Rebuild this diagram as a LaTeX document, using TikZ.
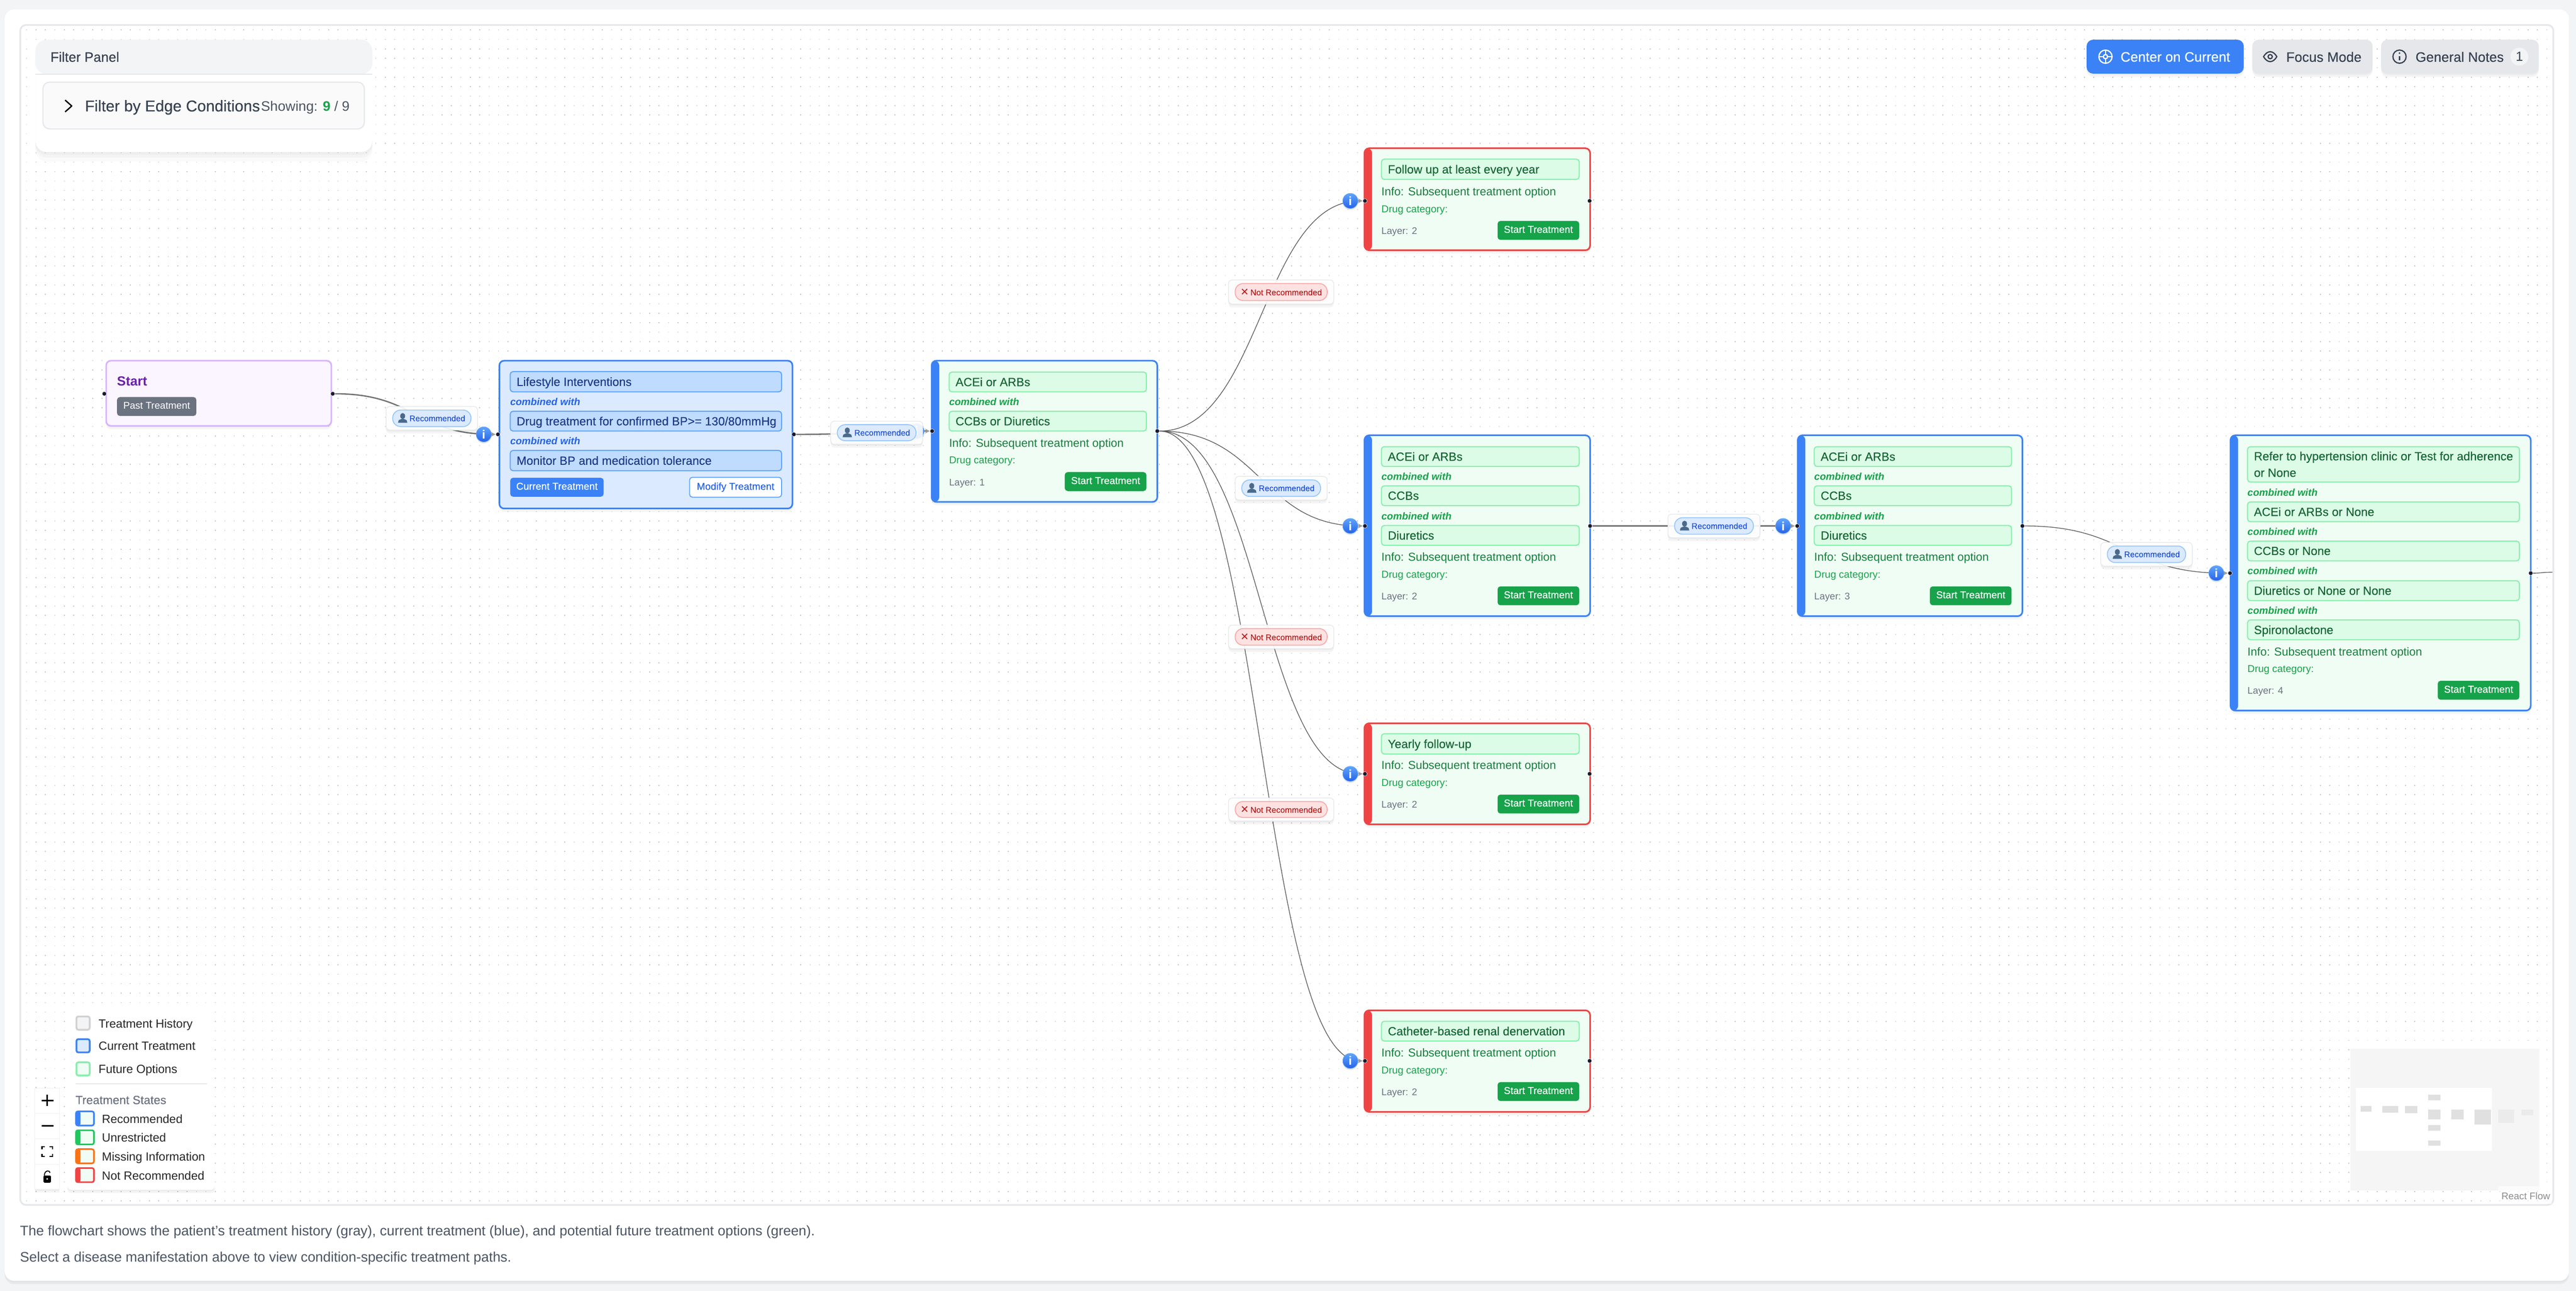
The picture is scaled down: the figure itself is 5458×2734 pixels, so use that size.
\documentclass[tikz,border=0pt]{standalone}
\usepackage{fontspec}
\setmainfont{Liberation Sans}
\newfontfamily\medfont[FakeBold=0.25]{Liberation Sans}
\newfontfamily\dingfont{DejaVu Sans}
\usetikzlibrary{arrows.meta, positioning, calc, shadows}
\definecolor{pagebg}{HTML}{F3F4F6}
\definecolor{lineg}{HTML}{E5E7EB}
\definecolor{blueline}{HTML}{3B82F6}
\definecolor{redline}{HTML}{EF4444}
\definecolor{greenbg}{HTML}{F0FDF4}
\definecolor{chipgreen}{HTML}{DCFCE7}
\definecolor{chipgreenline}{HTML}{86EFAC}
\definecolor{chipblue}{HTML}{BFDBFE}
\definecolor{chipblueline}{HTML}{60A5FA}
\definecolor{bluebg}{HTML}{DBEAFE}
\definecolor{green5}{HTML}{22C55E}
\definecolor{green6}{HTML}{16A34A}
\definecolor{green7}{HTML}{15803D}
\definecolor{green8}{HTML}{166534}
\definecolor{orange5}{HTML}{F97316}
\definecolor{blue4}{HTML}{60A5FA}
\definecolor{blue6}{HTML}{2563EB}
\definecolor{blue7}{HTML}{1D4ED8}
\definecolor{blue9}{HTML}{1E3A8A}
\definecolor{gray5}{HTML}{6B7280}
\definecolor{gray6}{HTML}{4B5563}
\definecolor{gray7}{HTML}{374151}
\definecolor{pillblueline}{HTML}{93C5FD}
\definecolor{pillred}{HTML}{FEE2E2}
\definecolor{pillredline}{HTML}{FCA5A5}
\definecolor{red7}{HTML}{B91C1C}
\definecolor{purplebg}{HTML}{FAF5FF}
\definecolor{purpleline}{HTML}{D8B4FE}
\definecolor{purpletext}{HTML}{6B21A8}
\definecolor{handlecol}{HTML}{1A192B}
\definecolor{iconslate}{HTML}{4A6A8C}

\begin{document}
\begin{tikzpicture}[x=0.25pt,y=-0.25pt]
  % Styles
  \tikzset{
    softshadow/.style={general shadow={fill=black,opacity=.03,shadow yshift=-.8pt},
      general shadow={fill=black,opacity=.04,shadow yshift=-1.8pt}},
    flat/.style={inner sep=0pt,outer sep=0pt,yshift=-.6pt,execute at begin node={\vphantom{Ag}}},
    edge/.style={draw=black!65,line width=.36pt,-{Stealth[length=2.6pt,width=2.6pt,color=black!38]}},
    edgethick/.style={draw=black!55,line width=.7pt},
    handle/.style={circle,fill=handlecol,draw=white,line width=.15pt,minimum size=2.3pt,inner sep=0pt},
    infobtn/.style={circle,top color=blue4,bottom color=blue6,draw=blue4,line width=.2pt,
      minimum size=8pt,inner sep=0pt,text=white,font=\bfseries\fontsize{6.4}{7}\selectfont,
      general shadow={fill=black,opacity=.1,shadow yshift=-.8pt}},
    card/.style={draw=#1,fill=greenbg,line width=.85pt,rounded corners=2.5pt,softshadow,
      path picture={\fill[#1] (path picture bounding box.north west) rectangle ([xshift=4pt]path picture bounding box.south west);}},
    state/.style={draw=#1,fill=greenbg,line width=.85pt,rounded corners=1pt,
      path picture={\fill[#1] (path picture bounding box.north west) rectangle ([xshift=2.4pt]path picture bounding box.south west);}},
    swatch/.style 2 args={draw=#1,fill=#2,line width=.95pt,rounded corners=1pt},
    chipgr/.style={draw=chipgreenline,fill=chipgreen,line width=.55pt,rounded corners=1.5pt},
    chipbl/.style={draw=chipblueline,fill=chipblue,line width=.55pt,rounded corners=1.5pt},
    chiptext/.style={flat,anchor=west,text=green8,font=\medfont\fontsize{6.3}{7}\selectfont},
    combo/.style={flat,anchor=west,text=green6,font=\bfseries\itshape\fontsize{5.3}{6}\selectfont},
    infotext/.style={flat,anchor=west,text=green7,font=\fontsize{6.1}{7}\selectfont},
    drugtext/.style={flat,anchor=west,text=green6,font=\fontsize{5.35}{6}\selectfont},
    layertext/.style={flat,anchor=west,text=gray5,font=\fontsize{5.1}{6}\selectfont},
    startbtn/.style={fill=green6,rounded corners=1.5pt,text=white,font=\medfont\fontsize{5.3}{6}\selectfont},
    labelbox/.style={draw=lineg,fill=white,fill opacity=.9,line width=.35pt,rounded corners=2pt,softshadow},
    pillblue/.style={draw=pillblueline,fill=bluebg,line width=.45pt,rounded corners=4.2pt,text=blue7,font=\medfont\fontsize{4.35}{5}\selectfont},
    pillredn/.style={draw=pillredline,fill=pillred,line width=.45pt,rounded corners=4.2pt,text=red7,font=\medfont\fontsize{4.4}{5}\selectfont},
    topbtn/.style={rounded corners=3.5pt,softshadow},
    toptext/.style={flat,anchor=west,font=\medfont\fontsize{7.25}{8}\selectfont},
    legtext/.style={flat,anchor=west,text=black!85,font=\fontsize{6.3}{7}\selectfont},
    icon/.style={line width=.65pt},
    ctrl/.style={fill=white,draw=black!6,line width=.2pt}
  }
  % Helpers
  \newcommand{\bx}[7][]{% #1 style, #2 name, #3..#6 corners, #7 text
    \node[#1,minimum width={(#5-(#3))*0.25pt},minimum height={(#6-(#4))*0.25pt},inner sep=0pt,outer sep=0pt]
      (#2) at ({((#3)+(#5))/2},{((#4)+(#6))/2}) {#7};}
  \newcommand{\txt}[5][]{\node[#1] (#2) at (#3,#4) {#5};}
  \newcommand{\chip}[7][chipgr]{% box and its text
    \bx[#1]{#2}{#3}{#4}{#5}{#6}{}
    \node[chiptext,right=3.4pt of #2.west] (#2t) {#7};}
  \newcommand{\foot}[5]{% #1 prefix, #2 text x, #3 info y, #4 layer, #5 button right
    \txt[infotext]{#1info}{#2}{#3}{Info: Subsequent treatment option}
    \txt[drugtext]{#1drug}{#2}{#3+36.5}{Drug category:}
    \txt[layertext]{#1layer}{#2}{#3+83}{Layer: #4}
    \bx[startbtn]{#1btn}{#5-173}{#3+62}{#5}{#3+102}{\vphantom{Ag}Start Treatment}}
  \newcommand{\flow}[3][]{\draw[edge,#1] (#2) .. controls ($(#2)!.5!(#2 -| #3)$) and ($(#3)!.5!(#3 -| #2)$) .. (#3);}
  \newcommand{\recbox}[5]{% name, box corners
    \bx[labelbox]{#1}{#2}{#3}{#4}{#5}{}
    \bx[pillblue]{#1p}{#2+14}{#3+7.5}{#4-14}{#5-7.5}{\hspace*{5.8pt}Recommended}
    % bust icon
    \fill[iconslate] ([xshift=5.3pt,yshift=1.2pt]#1p.west) ellipse (1.3pt and 1.6pt);
    \fill[iconslate] ([xshift=2.8pt,yshift=-2.4pt]#1p.west) -- ([xshift=7.8pt,yshift=-2.4pt]#1p.west)
      -- ([xshift=7.4pt,yshift=-1pt]#1p.west) -- ([xshift=5.9pt,yshift=-.3pt]#1p.west)
      -- ([xshift=4.7pt,yshift=-.3pt]#1p.west) -- ([xshift=3.2pt,yshift=-1pt]#1p.west) -- cycle;}
  \newcommand{\norec}[3]{% name, top, bottom
    \bx[labelbox]{#1}{2603}{#2}{2826}{#3}{}
    \bx[pillredn]{#1p}{2617}{#2+7.5}{2812}{#3-7.5}{{\dingfont\fontsize{5.4}{5}\selectfont ✕}\,Not Recommended}}

  \useasboundingbox (0,0) rectangle (5458,2734);
  \fill[pagebg] (0,0) rectangle (5458,2734);

  % Card and canvas
  \bx[fill=white,rounded corners=5pt,softshadow]{page}{10}{20}{5443}{2713}{}
  \bx[fill=white,draw=lineg,line width=.9pt,rounded corners=3pt]{canvas}{43}{53}{5410}{2552}{}
  \foreach \rowy in {63.5,83.5,...,2544}
    \draw[black!24,line width=.42pt,dash pattern=on .42pt off 4.58pt] (55.5,\rowy) -- (5399,\rowy);

  % Start and current treatment
  \bx[draw=purpleline,fill=purplebg,line width=.85pt,rounded corners=2.5pt,softshadow]{start}{225}{764}{702}{902}{}
  \txt[flat,anchor=west,text=purpletext,font=\bfseries\fontsize{7}{8}\selectfont]{startt}{248}{808}{Start}
  \bx[fill=gray5,rounded corners=1.5pt,text=white,font=\fontsize{5.2}{6}\selectfont]{pastbtn}{248}{841}{416}{881}{\vphantom{Ag}Past Treatment}

  \bx[draw=blueline,fill=bluebg,line width=.85pt,rounded corners=2.5pt,softshadow]{cur}{1058}{764}{1679}{1077}{}
  \tikzset{chiptext/.append style={text=blue9}}
  \chip[chipbl]{cur1}{1081}{787}{1656}{830}{Lifestyle Interventions}
  \txt[combo,text=blue6]{curc1}{1081}{851}{combined with}
  \chip[chipbl]{cur2}{1081}{871}{1656}{913}{Drug treatment for confirmed BP>= 130/80mmHg}
  \txt[combo,text=blue6]{curc2}{1081}{934}{combined with}
  \chip[chipbl]{cur3}{1081}{954}{1656}{997}{Monitor BP and medication tolerance}
  \tikzset{chiptext/.append style={text=green8}}
  \bx[fill=blueline,rounded corners=1.5pt,text=white,font=\medfont\fontsize{5.3}{6}\selectfont]{curbtn}{1081}{1012}{1279}{1052}{\vphantom{Ag}Current Treatment}
  \bx[fill=white,draw=chipblueline,line width=.5pt,rounded corners=1.5pt,text=blue6,font=\medfont\fontsize{5.3}{6}\selectfont]{modbtn}{1461}{1011}{1656}{1053}{\vphantom{Ag}Modify Treatment}

  % Layer 1
  \bx[card=blueline]{ace}{1974}{764}{2452}{1063}{}
  \chip{ace1}{2011}{788}{2429}{830}{ACEi or ARBs}
  \txt[combo]{acec1}{2011}{851}{combined with}
  \chip{ace2}{2011}{871}{2429}{913}{CCBs or Diuretics}
  \foot{ace}{2011}{938}{1}{2429}

  % Layer 2
  \bx[card=redline]{fol}{2891}{314}{3369}{530}{}
  \chip{fol1}{2927}{337}{3346}{380}{Follow up at least every year}
  \foot{fol}{2927}{406}{2}{3346}

  \bx[card=blueline]{mid}{2891}{922}{3369}{1305}{}
  \chip{mid1}{2927}{946}{3346}{988}{ACEi or ARBs}
  \txt[combo]{midc1}{2927}{1009}{combined with}
  \chip{mid2}{2927}{1029}{3346}{1071}{CCBs}
  \txt[combo]{midc2}{2927}{1093}{combined with}
  \chip{mid3}{2927}{1113}{3346}{1155}{Diuretics}
  \foot{mid}{2927}{1180}{2}{3346}

  \bx[card=redline]{yea}{2891}{1532}{3369}{1746}{}
  \chip{yea1}{2927}{1554}{3346}{1597}{Yearly follow-up}
  \foot{yea}{2927}{1621}{2}{3346}

  \bx[card=redline]{cat}{2891}{2140}{3369}{2355}{}
  \chip{cat1}{2927}{2163}{3346}{2205}{Catheter-based renal denervation}
  \foot{cat}{2927}{2230}{2}{3346}

  % Layer 3
  \bx[card=blueline]{thr}{3809}{922}{4285}{1305}{}
  \chip{thr1}{3844}{946}{4262}{988}{ACEi or ARBs}
  \txt[combo]{thrc1}{3844}{1009}{combined with}
  \chip{thr2}{3844}{1029}{4262}{1071}{CCBs}
  \txt[combo]{thrc2}{3844}{1093}{combined with}
  \chip{thr3}{3844}{1113}{4262}{1155}{Diuretics}
  \foot{thr}{3844}{1180}{3}{4262}

  % Layer 4
  \bx[card=blueline]{fou}{4726}{922}{5362}{1505}{}
  \bx[chipgr]{fou1}{4762}{946}{5338}{1021}{}
  \node[inner sep=0pt,outer sep=0pt,anchor=west,right=3.4pt of fou1.west,text=green8,align=left,font=\medfont\fontsize{6.3}{8.75}\selectfont] (fou1t)
    {Refer to hypertension clinic or Test for adherence\\or None};
  \txt[combo]{fouc1}{4762}{1043}{combined with}
  \chip{fou2}{4762}{1063}{5338}{1105}{ACEi or ARBs or None}
  \txt[combo]{fouc2}{4762}{1126}{combined with}
  \chip{fou3}{4762}{1146}{5338}{1188}{CCBs or None}
  \txt[combo]{fouc3}{4762}{1209}{combined with}
  \chip{fou4}{4762}{1230}{5338}{1272}{Diuretics or None or None}
  \txt[combo]{fouc4}{4762}{1293}{combined with}
  \chip{fou5}{4762}{1313}{5338}{1355}{Spironolactone}
  \foot{fou}{4762}{1380}{4}{5338}

  % Handles
  \foreach \hname/\hx/\hy in {startL/221/834,startR/705/834,curL/1055/920,curR/1682/920,
      aceL/1975/913,aceR/2452/913,folL/2892/425.5,folR/3368/425.5,midL/2892/1114,midR/3369/1114,
      yeaL/2892/1639,yeaR/3368/1639,catL/2892/2247,catR/3368/2247,thrL/3808/1114,thrR/4285/1114,
      fouL/4725/1214,fouR/5362/1214}
    \node[handle] (\hname) at (\hx,\hy) {};
  \coordinate (offR) at (5408,1212);

  % Edges
  \flow[edgethick]{startR}{curL}
  \flow[edgethick]{curR}{aceL}
  \flow{aceR}{folL}
  \flow{aceR}{midL}
  \flow{aceR}{yeaL}
  \flow{aceR}{catL}
  \flow[edgethick]{midR}{thrL}
  \flow{thrR}{fouL}
  \draw[edge,-] (fouR) .. controls (5385,1214) and (5385,1212) .. (offR);

  % Info buttons
  \foreach \iname/\ix/\iy in {iCur/1025/920,iAce/1942/913,iFol/2861/425.5,iMid/2861/1114,
      iYea/2861/1639,iCat/2861/2247,iThr/3778/1114,iFou/4696/1214}
    \node[infobtn] (\iname) at (\ix,\iy) {i};

  % Edge labels
  \recbox{recA}{818}{861}{1012}{911}
  \recbox{recB}{1760}{892}{1955}{941}
  \recbox{recC}{2617}{1009}{2812}{1059}
  \recbox{recD}{3534}{1089}{3729}{1139}
  \recbox{recE}{4451}{1149}{4645}{1199}
  \norec{norA}{593}{644}
  \norec{norB}{1324}{1374}
  \norec{norC}{1690}{1739}

  % Filter panel
  \bx[fill=white,rounded corners=6pt,general shadow={fill=black,opacity=.025,shadow yshift=-1.5pt},general shadow={fill=black,opacity=.025,shadow yshift=-3pt},general shadow={fill=black,opacity=.02,shadow yshift=-5pt},
    path picture={\fill[pagebg] (path picture bounding box.north west) rectangle ([yshift=-18.25pt]path picture bounding box.north east);
      \draw[lineg,line width=.5pt] ([yshift=-18.25pt]path picture bounding box.north west) -- ([yshift=-18.25pt]path picture bounding box.north east);}]{filter}{75}{84}{789}{322}{}
  \txt[flat,anchor=west,text=gray7,font=\medfont\fontsize{7.2}{8}\selectfont]{filtert}{107}{121}{Filter Panel}
  \bx[fill=black!2,draw=lineg,line width=.6pt,rounded corners=3.5pt]{edgecond}{91}{174}{772}{273}{}
  \draw[black,line width=.7pt,line join=round] (138,212) -- (152,224.5) -- (138,237);
  \txt[flat,anchor=west,text=gray7,font=\medfont\fontsize{8.3}{9}\selectfont]{edgecondt}{180}{225}{Filter by Edge Conditions}
  \txt[flat,anchor=west,text=gray6,font=\fontsize{7.3}{8}\selectfont]{showing}{553}{225}{Showing: \textcolor{green6}{\bfseries 9} / 9}

  % Top right buttons
  \bx[topbtn,fill=blueline]{centerbtn}{4421}{84}{4754}{156}{}
  \draw[icon,white] (4461,120) circle[radius=14] (4461,120) circle[radius=4.5];
  \draw[icon,white] (4447,120) -- (4456,120) (4466,120) -- (4475,120) (4461,106) -- (4461,115) (4461,125) -- (4461,134);
  \txt[toptext,text=white]{centert}{4493}{121}{Center on Current}
  \bx[topbtn,fill=lineg]{focusbtn}{4772}{84}{5027}{156}{}
  \draw[icon,gray7] (4796,120) .. controls (4804,106) and (4816,106) .. (4824,120) .. controls (4816,134) and (4804,134) .. (4796,120) -- cycle;
  \draw[icon,gray7] (4810,120) circle[radius=4.5];
  \txt[toptext,text=gray7]{focust}{4844}{121}{Focus Mode}
  \bx[topbtn,fill=lineg]{notesbtn}{5045}{84}{5379}{156}{}
  \draw[icon,gray7] (5084,120) circle[radius=14];
  \draw[icon,gray7] (5084,119) -- (5084,128);
  \fill[gray7] (5084,112.5) circle[radius=2];
  \txt[toptext,text=gray7]{notest}{5118}{121}{General Notes}
  \node[circle,fill=pagebg,minimum size=9.5pt,inner sep=0pt,text=gray7,font=\fontsize{7}{8}\selectfont] (notesn) at (5338,120) {1};

  % Legend
  \bx[fill=white,rounded corners=2pt,softshadow]{legend}{143}{2142}{455}{2520}{}
  \bx[swatch={black!18}{pagebg}]{swH}{162}{2153}{190}{2181}{}
  \txt[legtext]{swHt}{209}{2168}{Treatment History}
  \bx[swatch={blueline}{bluebg}]{swC}{162}{2201}{190}{2229}{}
  \txt[legtext]{swCt}{209}{2216}{Current Treatment}
  \bx[swatch={chipgreenline}{greenbg}]{swF}{162}{2250}{190}{2278}{}
  \txt[legtext]{swFt}{209}{2264}{Future Options}
  \draw[lineg,line width=.5pt] (160,2296) -- (439,2296);
  \txt[flat,anchor=west,text=gray5,font=\medfont\fontsize{6.3}{7}\selectfont]{statest}{160}{2330}{Treatment States}
  \foreach \sname/\scol/\sy/\stext in {stR/blueline/2354/Recommended,stU/green5/2394/Unrestricted,
      stM/orange5/2434/Missing Information,stN/redline/2474/Not Recommended}{
    \bx[state=\scol]{\sname}{161}{\sy}{199}{\sy+30}{}
    \txt[legtext]{\sname t}{216}{\sy+16}{\stext}
  }

  % Zoom controls
  \bx[ctrl,softshadow]{ctrlA}{74}{2305}{126}{2358}{}
  \bx[ctrl,softshadow]{ctrlB}{74}{2358}{126}{2412}{}
  \bx[ctrl,softshadow]{ctrlC}{74}{2412}{126}{2466}{}
  \bx[ctrl,softshadow]{ctrlD}{74}{2466}{126}{2519}{}
  \draw[black,line width=.7pt] (88,2331) -- (113,2331) (100,2319) -- (100,2343);
  \draw[black,line width=.85pt] (88,2385) -- (113,2385);
  \draw[black,line width=.6pt] (89,2434) -- (89,2428.5) -- (95,2428.5) (105,2428.5) -- (111,2428.5) -- (111,2434)
    (89,2444) -- (89,2449.5) -- (95,2449.5) (105,2449.5) -- (111,2449.5) -- (111,2444);
  \fill[black,rounded corners=.5pt] (92,2490) rectangle (108,2505);
  \fill[white] (100,2497) circle[radius=2];
  \draw[black,line width=.5pt] (94,2490) .. controls (94,2478) and (106,2478) .. (106,2484);

  % Minimap
  \fill[black!4] (4980,2221) rectangle (5380,2521);
  \fill[white] (4992,2304) rectangle (5280,2438);
  \foreach \mxa/\mya/\mxb/\myb in {5002/2342/5025/2354,5047/2342/5081/2357,5096/2342/5122/2358,
      5145/2318/5171/2330,5145/2350/5171/2371,5145/2383/5171/2395,5145/2416/5171/2427,
      5194/2350/5220/2371,5243/2350/5278/2382}
    \fill[black!12] (\mxa,\mya) rectangle (\mxb,\myb);
  \fill[black!8] (5293,2350) rectangle (5327,2378);
  \fill[black!8] (5342,2350) rectangle (5367,2362);
  \fill[white,opacity=.6] (5293,2513) rectangle (5407,2550);
  \txt[flat,anchor=east,text=black!45,font=\fontsize{5.15}{6}\selectfont]{reactflow}{5403}{2533}{React Flow}

  % Caption
  \txt[flat,anchor=west,text=gray6,font=\fontsize{7.35}{8}\selectfont]{captionA}{42.5}{2607}{The flowchart shows the patient's treatment history (gray), current treatment (blue), and potential future treatment options (green).}
  \txt[flat,anchor=west,text=gray6,font=\fontsize{7.35}{8}\selectfont]{captionB}{42.5}{2663}{Select a disease manifestation above to view condition-specific treatment paths.}
\end{tikzpicture}
\end{document}
